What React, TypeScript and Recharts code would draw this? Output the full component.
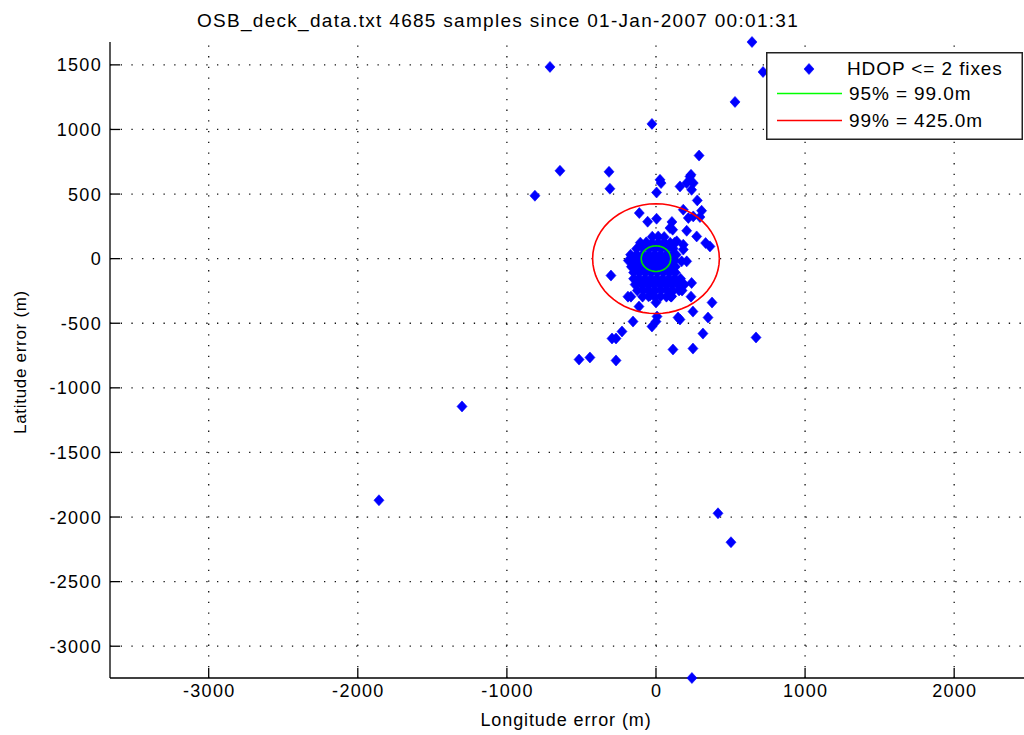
import React from 'react';
import { ScatterChart, Scatter, XAxis, YAxis, ReferenceLine, Legend } from 'recharts';

const FONT = '"Liberation Sans", Arial, Helvetica, sans-serif';

// Axis setup (metres)
const xTicks = [-3000, -2000, -1000, 0, 1000, 2000];
const yTicks = [-3000, -2500, -2000, -1500, -1000, -500, 0, 500, 1000, 1500];
const xDomain: [number, number] = [-3662, 2522];
const yDomain: [number, number] = [-3246, 1677];

const titleText = 'OSB_deck_data.txt 4685 samples since 01-Jan-2007 00:01:31';
const xLabelText = 'Longitude error (m)';
const yLabelText = 'Latitude error (m)';
const fixesLabel = 'HDOP <= 2 fixes';

// Error radii containing 95% and 99% of the fixes (m)
const radius95 = 99.0;
const radius99 = 425.0;

// Isolated fixes far from the true position [lon err, lat err]
const farFixes: [number, number][] = [
  [-1858, -1870], [-1301, -1144], [416, -1971], [503, -2195], [241, -3246],
  [644, 1677], [718, 1445], [530, 1213], [-711, 1484], [-812, 487],
  [-27, 1043], [671, -610],
];

// Scattered fixes around the main cluster
const nearFixes: [number, number][] = [
  [-644, 680], [-315, 672], [-309, 541], [289, 798], [228, 636], [235, 649],
  [206, 585], [250, 585], [239, 533], [34, 585], [27, 610], [161, 559], [4, 512],
  [277, 451], [306, 371], [183, 379], [250, 327], [295, 322], [217, 315],
  [-112, 353], [-56, 286], [4, 309], [107, 284], [112, 224], [94, 237],
  [206, 216], [273, 172], [333, 121], [362, 95], [183, 108], [139, 134],
  [183, 70], [206, -21], [172, -21], [239, -188], [-302, -131],
  [-168, -294], [-188, -294], [-114, -371], [-40, -286], [0, -340], [94, -286],
  [101, -294], [235, -294], [248, -410], [376, -340], [349, -456], [148, -456],
  [161, -471], [7, -448], [0, -487], [-27, -525], [-154, -487], [-228, -564],
  [-295, -618], [-268, -618], [315, -580], [114, -703], [248, -696],
  [-516, -781], [-443, -765], [-268, -788],
];

// Dense core of fixes close to the true position
const coreFixes: [number, number][] = [
  [-25, 170], [15, 172], [55, 168],
  [-105, 124], [-65, 126], [-25, 122], [15, 124], [55, 125], [95, 123], [125, 124],
  [-130, 77], [-85, 79], [-45, 76], [-5, 78], [35, 77], [75, 76], [115, 78],
  [-170, 31], [-130, 33], [-90, 30], [-50, 31], [-10, 32], [30, 30], [70, 31], [110, 33], [135, 30],
  [-185, -15], [-150, -14], [-110, -16], [-70, -15], [-30, -13], [10, -15], [50, -16], [90, -14], [125, -15],
  [-165, -62], [-130, -61], [-90, -63], [-50, -62], [-10, -60], [30, -62], [70, -63], [110, -61], [130, -62],
  [-150, -108], [-110, -107], [-70, -109], [-30, -108], [10, -106], [50, -108], [90, -109], [130, -108],
  [-150, -155], [-115, -154], [-75, -156], [-35, -155], [5, -153], [45, -155], [85, -156], [125, -154], [165, -155],
  [-140, -201], [-95, -200], [-55, -202], [-15, -201], [25, -199], [65, -201], [105, -202], [145, -200], [190, -201],
  [-125, -247], [-85, -246], [-45, -248], [-5, -247], [35, -245], [75, -247], [115, -248], [155, -246], [175, -247],
  [-90, -294], [-50, -292], [-10, -295], [30, -293], [70, -294], [105, -292],
];

const toPoints = (rows: [number, number][]) => rows.map(([x, y]) => ({ x, y }));
const fixPoints = [...toPoints(farFixes), ...toPoints(nearFixes), ...toPoints(coreFixes)];

// Closed polygon tracing a circle of the given radius about the origin
const ringPoints = (r: number) =>
  Array.from({ length: 61 }, (_, i) => {
    const a = (i / 60) * 2 * Math.PI;
    return { x: r * Math.cos(a), y: r * Math.sin(a) };
  });

const Diamond = (props: any) => {
  const { cx, cy } = props;
  if (cx == null || cy == null) return <g />;
  return (
    <polygon
      points={`${cx},${cy - 5.5} ${cx + 5},${cy} ${cx},${cy + 5.5} ${cx - 5},${cy}`}
      fill="#0000ff"
      stroke="#0000ff"
      strokeWidth={0.6}
    />
  );
};

const NoShape = () => <g />;

const tickTextStyle = {
  fontFamily: FONT,
  fontSize: 18,
  letterSpacing: 1.3,
  fill: '#000',
};

const XTick = (props: any) => {
  const { x, y, payload } = props;
  return (
    <g>
      <line x1={x} y1={y} x2={x} y2={y - 10} stroke="#000" strokeWidth={1.3} />
      <text x={x + 0.6} y={y + 19} textAnchor="middle" {...tickTextStyle}>
        {String(payload.value)}
      </text>
    </g>
  );
};

const YTick = (props: any) => {
  const { x, y, payload } = props;
  return (
    <g>
      <line x1={x} y1={y} x2={x + 10} y2={y} stroke="#000" strokeWidth={1.3} />
      <text x={x - 8} y={y} dy="0.36em" textAnchor="end" {...tickTextStyle}>
        {String(payload.value)}
      </text>
    </g>
  );
};

const legendText = {
  fontFamily: FONT,
  fontSize: 19,
  letterSpacing: 0.9,
  fill: '#000',
};

const LegendBox = () => (
  <svg width={257} height={88} style={{ display: 'block' }}>
    <rect x={0.75} y={0.75} width={255.5} height={86.5} fill="#fff" stroke="#222" strokeWidth={1.5} />
    <Diamond cx={43} cy={17} />
    <text x={81} y={16} dy="0.36em" {...legendText}>{fixesLabel}</text>
    <line x1={11} y1={41.5} x2={76} y2={41.5} stroke="#00ff00" strokeWidth={1.5} />
    <text x={83} y={41} dy="0.36em" {...legendText}>{`95% = ${radius95.toFixed(1)}m`}</text>
    <line x1={11} y1={68.5} x2={76} y2={68.5} stroke="#ff0000" strokeWidth={1.5} />
    <text x={83} y={68} dy="0.36em" {...legendText}>{`99% = ${radius99.toFixed(1)}m`}</text>
  </svg>
);

const gridStyle = { stroke: '#111', strokeWidth: 1.3, strokeDasharray: '1.3 9.4' };

export default function App() {
  return (
    <div
      style={{
        position: 'absolute',
        left: 0,
        top: 0,
        width: 1024,
        height: 735,
        overflow: 'hidden',
        background: '#fff',
      }}
    >
      <ScatterChart width={1040} height={735} margin={{ top: 42, right: 8, bottom: 0, left: 0 }}>
        <XAxis
          type="number"
          dataKey="x"
          domain={xDomain}
          ticks={xTicks}
          height={57}
          tickSize={0}
          tickMargin={0}
          tickLine={false}
          axisLine={{ stroke: '#000', strokeWidth: 1.3 }}
          tick={<XTick />}
          interval={0}
        />
        <YAxis
          type="number"
          dataKey="y"
          domain={yDomain}
          ticks={yTicks}
          width={110}
          tickSize={0}
          tickMargin={0}
          tickLine={false}
          axisLine={{ stroke: '#000', strokeWidth: 1.3 }}
          tick={<YTick />}
          interval={0}
        />
        {/* dotted grid at the labelled ticks */}
        {xTicks.map((t) => (
          <ReferenceLine key={`gx${t}`} x={t} {...gridStyle} />
        ))}
        {yTicks.map((t) => (
          <ReferenceLine key={`gy${t}`} y={t} {...gridStyle} />
        ))}
        <Scatter data={fixPoints} shape={<Diamond />} isAnimationActive={false} />
        <Scatter
          data={ringPoints(radius95)}
          shape={<NoShape />}
          line={{ stroke: '#00e000', strokeWidth: 1.6 }}
          lineType="joint"
          isAnimationActive={false}
        />
        <Scatter
          data={ringPoints(radius99)}
          shape={<NoShape />}
          line={{ stroke: '#ff0000', strokeWidth: 1.6 }}
          lineType="joint"
          isAnimationActive={false}
        />
        <Legend
          layout="vertical"
          align="center"
          verticalAlign="middle"
          content={<LegendBox />}
          wrapperStyle={{ left: 766, top: 52, width: 257, height: 88 }}
        />
      </ScatterChart>
      <svg
        width={1024}
        height={735}
        style={{ position: 'absolute', left: 0, top: 0, pointerEvents: 'none' }}
      >
        <text x={498} y={27} textAnchor="middle" fontFamily={FONT} fontSize={19} letterSpacing={1.3} fill="#000">
          {titleText}
        </text>
        <text x={566} y={726} textAnchor="middle" fontFamily={FONT} fontSize={18} letterSpacing={0.9} fill="#000">
          {xLabelText}
        </text>
        <text
          x={26}
          y={362}
          textAnchor="middle"
          fontFamily={FONT}
          fontSize={17}
          letterSpacing={0.7}
          fill="#000"
          transform="rotate(-90 26 362)"
        >
          {yLabelText}
        </text>
      </svg>
    </div>
  );
}
